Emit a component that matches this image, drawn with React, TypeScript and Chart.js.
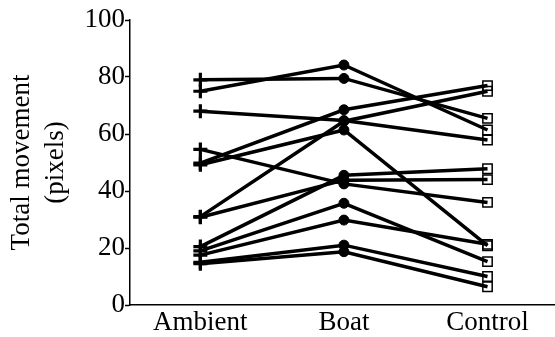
import React, { useEffect, useRef } from "react";
import { Chart, registerables } from "chart.js";

Chart.register(...registerables);

const categories = ["Ambient", "Boat", "Control"];
const yTicks = [0, 20, 40, 60, 80, 100];
const yTitle = ["Total movement", "(pixels)"];

// one value per individual, per condition
const ambient = [79, 75, 68, 54.6, 49.8, 49.2, 31, 30.8, 20.5, 19, 17.5, 15, 14.5];
const boat = [79.5, 84.2, 64.7, 42.5, 68.5, 61.4, 64.5, 43.8, 45.5, 35.7, 29.8, 21, 18.7];
const control = [65.5, 61.4, 57.9, 36, 77, 20.8, 75, 44, 47.8, 15.2, 21.3, 10, 6.4];

const FONT = "'Liberation Serif', 'Times New Roman', serif";

export default function App() {
  const ref = useRef<HTMLCanvasElement | null>(null);
  useEffect(() => {
    if (!ref.current) return;
    const datasets = ambient.map((a, i) => ({
      label: "ind" + (i + 1),
      data: [
        { x: 1, y: a },
        { x: 2, y: boat[i] },
        { x: 3, y: control[i] },
      ],
      borderColor: "#000",
      borderWidth: 3.5,
      pointStyle: ["cross", "circle", "rect"],
      pointRadius: [7, 5, 6.6],
      pointBorderWidth: [3.2, 1, 1.5],
      pointBackgroundColor: ["#000", "#000", "rgba(0,0,0,0)"],
      pointBorderColor: "#000",
      showLine: true,
      tension: 0,
    }));
    const chart = new Chart(ref.current, {
      type: "scatter",
      data: { datasets: datasets as any },
      options: {
        animation: false,
        responsive: false,
        maintainAspectRatio: false,
        layout: { autoPadding: false, padding: { top: 20, right: 0, bottom: 0, left: 0 } },
        plugins: { legend: { display: false }, tooltip: { enabled: false } },
        scales: {
          x: {
            type: "linear",
            min: 0.51,
            max: 3.47,
            afterBuildTicks: (axis: any) => {
              axis.ticks = categories.map((_, i) => ({ value: i + 1 }));
            },
            afterFit: (s: any) => {
              s.height = 32;
              s.paddingRight = 0;
              s.paddingLeft = 0;
            },
            ticks: {
              color: "#000",
              padding: 2,
              maxRotation: 0,
              font: { family: FONT, size: 27 },
              callback: (v: any) => categories[Number(v) - 1] ?? "",
            },
            grid: { display: true, drawOnChartArea: false, drawTicks: false },
            border: { display: true, color: "#000", width: 1.5 },
          },
          y: {
            type: "linear",
            min: 0,
            max: 100,
            afterBuildTicks: (axis: any) => {
              axis.ticks = yTicks.map((v) => ({ value: v }));
            },
            afterFit: (s: any) => {
              s.width = 130;
            },
            ticks: {
              color: "#000",
              padding: 0,
              font: { family: FONT, size: 27 },
            },
            grid: {
              display: true,
              drawOnChartArea: false,
              drawTicks: true,
              tickLength: 5,
              color: "#000",
              tickWidth: 1.5,
            },
            border: { display: true, color: "#000", width: 1.5 },
            title: {
              display: true,
              text: yTitle,
              color: "#000",
              padding: { top: 5, bottom: 0 },
              font: { family: FONT, size: 27, lineHeight: 1.25 },
            },
          },
        },
      },
    });
    return () => chart.destroy();
  }, []);
  return (
    <div style={{ position: "fixed", left: 0, top: 0, width: 555, height: 337, background: "#fff" }}>
      <canvas ref={ref} width={555} height={337} style={{ width: 555, height: 337, display: "block" }} />
    </div>
  );
}
